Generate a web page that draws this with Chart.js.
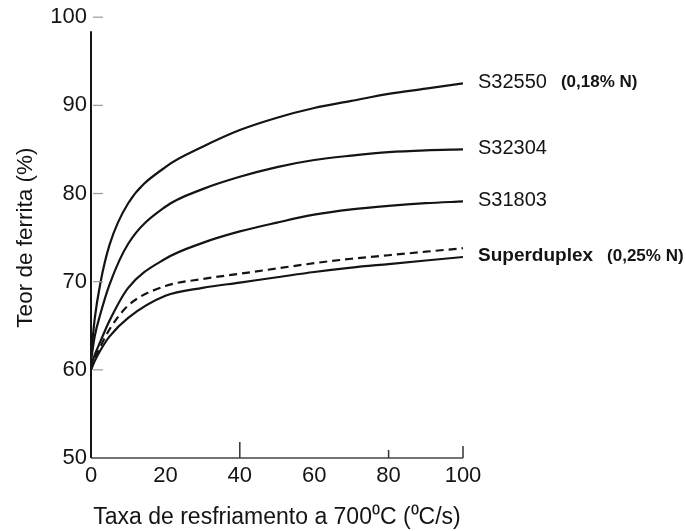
<!DOCTYPE html>
<html>
<head>
<meta charset="utf-8">
<script src="https://cdn.jsdelivr.net/npm/chart.js@4"></script>
<style>
html, body { margin: 0; padding: 0; background: #fff; }
#wrap { width: 686px; height: 531px; }
</style>
</head>
<body>
<div id="wrap"><canvas id="myChart" width="686" height="531"></canvas></div>
<script>
// cooling rate at 700 C (C/s)
const rates = [0, 1, 2.5, 5, 10, 20, 30, 40, 50, 60, 70, 80, 90, 100];

// ferrite content (%)
const s32550 = [61.5, 65.8, 69.8, 74.2, 78.9, 83, 85.3, 87.2, 88.6, 89.7, 90.5, 91.3, 91.9, 92.5];
const s32304 = [61, 63.8, 66.3, 69.7, 74.3, 78.5, 80.5, 81.9, 83, 83.8, 84.3, 84.7, 84.9, 85.0];
const s31803 = [60.5, 61.7, 63.2, 65.6, 69.3, 72.6, 74.4, 75.7, 76.7, 77.6, 78.2, 78.6, 78.9, 79.1];
const superDashed = [60, 61.2, 62.6, 64.6, 67.3, 69.5, 70.3, 70.9, 71.5, 72.1, 72.6, 73.0, 73.4, 73.8];
const superSolid = [60, 61.0, 62.2, 63.8, 65.9, 68.4, 69.3, 69.9, 70.5, 71.1, 71.6, 72.0, 72.4, 72.8];

const seriesNames = ['S32550', 'S32304', 'S31803', '', 'Superduplex'];
const seriesNotes = ['(0,18% N)', '', '', '', '(0,25% N)'];

const yTicks = [50, 60, 70, 80, 90, 100];
const xTicks = [0, 20, 40, 60, 80, 100];
const xTickMarks = [40, 80, 100];

const FONT = "'Liberation Sans', Arial, Helvetica, sans-serif";

function pts(vals) {
    return rates.map((r, i) => ({ x: r, y: vals[i] }));
}

function lineSet(vals, name, dash) {
    return {
        label: name,
        data: pts(vals),
        borderColor: '#141414',
        borderWidth: 2.2,
        borderDash: dash || [],
        pointRadius: 0,
        fill: false,
        cubicInterpolationMode: 'monotone'
    };
}

const extras = {
    id: 'extras',
    afterDraw(chart) {
        const ctx = chart.ctx;
        const a = chart.chartArea;
        const x = chart.scales.x;
        const y = chart.scales.y;
        ctx.save();

        // axes, the y axis broken just under 100
        ctx.strokeStyle = '#141414';
        ctx.lineWidth = 2;
        ctx.beginPath();
        ctx.moveTo(a.left, y.getPixelForValue(98.4));
        ctx.lineTo(a.left, a.bottom);
        ctx.stroke();
        ctx.strokeStyle = '#444';
        ctx.lineWidth = 1.5;
        ctx.beginPath();
        ctx.moveTo(a.left, a.bottom);
        ctx.lineTo(a.right, a.bottom);
        ctx.stroke();

        // small inward ticks
        ctx.strokeStyle = '#999';
        ctx.lineWidth = 1.2;
        yTicks.forEach(v => {
            if (v === 50) return;
            const py = y.getPixelForValue(v);
            ctx.beginPath();
            ctx.moveTo(a.left + 2, py);
            ctx.lineTo(a.left + 12, py);
            ctx.stroke();
        });
        ctx.strokeStyle = '#333';
        ctx.lineWidth = 1.5;
        xTickMarks.forEach((v, i) => {
            const px = x.getPixelForValue(v);
            const len = i === 0 ? 16 : (i === 1 ? 8 : 12);
            ctx.beginPath();
            ctx.moveTo(px, a.bottom);
            ctx.lineTo(px, a.bottom - len);
            ctx.stroke();
        });

        // curve names at the line ends
        ctx.fillStyle = '#141414';
        ctx.textBaseline = 'middle';
        ctx.textAlign = 'left';
        chart.data.datasets.forEach((ds, i) => {
            const name = seriesNames[i];
            if (!name) return;
            const last = ds.data[ds.data.length - 1];
            const px = x.getPixelForValue(last.x) + 15;
            const py = y.getPixelForValue(last.y) - 1;
            ctx.font = (name === 'Superduplex' ? 'bold 19px ' : '20px ') + FONT;
            ctx.fillText(name, px, py);
            const w = ctx.measureText(name).width;
            if (seriesNotes[i]) {
                ctx.font = 'bold 17px ' + FONT;
                ctx.fillText(seriesNotes[i], px + w + 14, py);
            }
        });
        ctx.restore();
    }
};

const ctx = document.getElementById('myChart').getContext('2d');
const chart = new Chart(ctx, {
    type: 'line',
    data: {
        datasets: [
            lineSet(s32550, 'S32550'),
            lineSet(s32304, 'S32304'),
            lineSet(s31803, 'S31803'),
            lineSet(superDashed, 'Superduplex (dashed)', [8, 5]),
            lineSet(superSolid, 'Superduplex')
        ]
    },
    options: {
        responsive: false,
        animation: false,
        layout: { padding: { top: 17, right: 223, left: 0, bottom: 0 } },
        plugins: { legend: { display: false }, tooltip: { enabled: false } },
        scales: {
            x: {
                type: 'linear',
                min: 0,
                max: 100,
                afterBuildTicks: s => { s.ticks = xTicks.map(v => ({ value: v })); },
                afterFit: s => { s.height = 73; },
                border: { display: false },
                grid: { display: false, drawTicks: false },
                ticks: { color: '#141414', font: { family: FONT, size: 22 }, padding: 5, maxRotation: 0 },
                title: {
                    display: true,
                    text: 'Taxa de resfriamento a 700\u2070C (\u2070C/s)',
                    color: '#141414',
                    font: { family: FONT, size: 23 },
                    padding: { top: 0, bottom: 0 }
                }
            },
            y: {
                min: 50,
                max: 100,
                afterBuildTicks: s => { s.ticks = yTicks.map(v => ({ value: v })); },
                afterFit: s => { s.width = 91; },
                border: { display: false },
                grid: { display: false, drawTicks: false },
                ticks: { color: '#141414', font: { family: FONT, size: 22 }, padding: 4 },
                title: {
                    display: true,
                    text: 'Teor de ferrita (%)',
                    color: '#141414',
                    font: { family: FONT, size: 22.5 },
                    padding: { top: 12, bottom: 0 }
                }
            }
        }
    },
    plugins: [extras]
});
</script>
</body>
</html>
